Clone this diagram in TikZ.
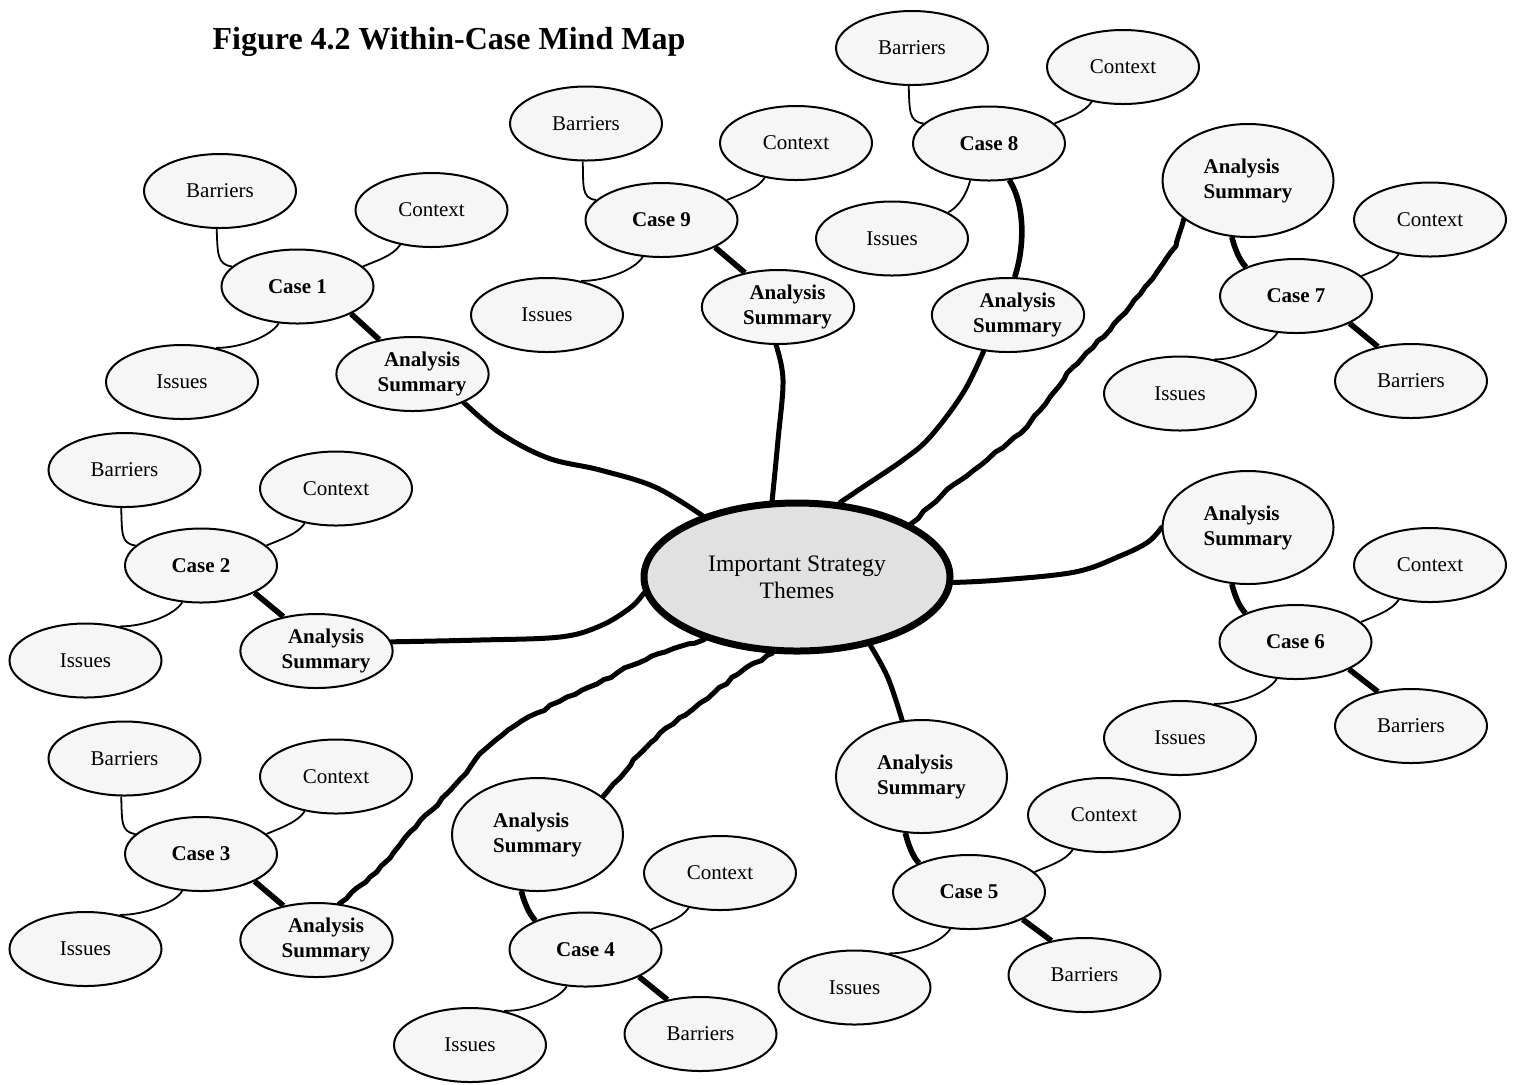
\documentclass[tikz,border=0pt]{standalone}
\usepackage{fontspec}
\setmainfont{Liberation Serif}
\usetikzlibrary{shapes.geometric,backgrounds,decorations.pathmorphing}

\definecolor{leafgray}{HTML}{F6F6F6}
\definecolor{hubgray}{HTML}{E1E1E1}

% thin links from a case to its satellites
\newcommand\barlink[2]{\draw[twig] (#1.-95) .. controls +(1,25) and +(-15,-2) .. (#2.163);}
\newcommand\ctxlink[2]{\draw[twig] (#1.-132) .. controls +(-7,11) and +(14,-6) .. (#2.17);}
\newcommand\isslink[2]{\draw[twig] (#1.-117) .. controls +(-8,13) and +(25,0) .. (#2.45);}
\newcommand\smallsummary{\hspace*{9.5pt}\begin{tabular}{@{}c@{}}Analysis\\Summary\end{tabular}}

\begin{document}
\begin{tikzpicture}[x=0.5pt,y=-0.5pt,
  every node/.style={font=\fontsize{10.5}{13}\selectfont},
  leaf/.style={ellipse,draw,line width=1pt,fill=leafgray,inner sep=0pt,
    minimum width=76pt,minimum height=37pt},
  casenode/.style={leaf,font=\fontsize{10.5}{13}\selectfont\bfseries},
  summary/.style={leaf,font=\fontsize{10.5}{12.5}\selectfont\bfseries},
  bigsummary/.style={summary,minimum width=85.5pt,minimum height=56.5pt,align=left},
  hub/.style={ellipse,draw,line width=3.5pt,fill=hubgray,inner sep=0pt,
    minimum width=153pt,minimum height=74pt,align=center,
    font=\fontsize{11.8}{13.5}\selectfont},
  twig/.style={line width=0.9pt},
  stem/.style={line width=2.8pt},
  branch/.style={line width=2.5pt,line cap=round,line join=round},
  rough/.style={decorate,decoration={random steps,segment length=4pt,amplitude=0.6pt}},
]
\pgfmathsetseed{11}
\useasboundingbox (0,0) rectangle (1519,1084);

\node[font=\fontsize{16}{19}\selectfont\bfseries] (title) at (449,42) {Figure 4.2 Within-Case Mind Map};

% central theme
\node[hub] (H) at (797,577) {Important Strategy\\Themes};

% case 1
\node[leaf] (b1) at (220,191) {Barriers};
\node[leaf] (x1) at (431.5,210) {Context};
\node[casenode] (c1) at (297.5,286.5) {Case 1};
\node[leaf] (i1) at (182,382) {Issues};
\node[summary] (a1) at (412.5,374) {\smallsummary};

% case 2
\node[leaf] (b2) at (124.5,470) {Barriers};
\node[leaf] (x2) at (336,488.5) {Context};
\node[casenode] (c2) at (201,565.5) {Case 2};
\node[leaf] (i2) at (85.5,660.5) {Issues};
\node[summary] (a2) at (316.5,651) {\smallsummary};

% case 3
\node[leaf] (b3) at (124.5,758.5) {Barriers};
\node[leaf] (x3) at (336,776.5) {Context};
\node[casenode] (c3) at (201,854) {Case 3};
\node[leaf] (i3) at (85.5,949) {Issues};
\node[summary] (a3) at (316.5,940) {\smallsummary};

% case 4
\node[bigsummary] (a4) at (537.5,834.5) {Analysis\\Summary};
\node[leaf] (x4) at (720,873) {Context};
\node[casenode] (c4) at (585.5,949.5) {Case 4};
\node[leaf] (b4) at (700.5,1034) {Barriers};
\node[leaf] (i4) at (470,1045) {Issues};

% case 5
\node[bigsummary] (a5) at (921.5,776.5) {Analysis\\Summary};
\node[leaf] (x5) at (1104,815) {Context};
\node[casenode] (c5) at (969,892) {Case 5};
\node[leaf] (b5) at (1084.5,975) {Barriers};
\node[leaf] (i5) at (854.5,987.5) {Issues};

% case 6
\node[bigsummary] (a6) at (1248,527.5) {Analysis\\Summary};
\node[leaf] (x6) at (1430,565) {Context};
\node[casenode] (c6) at (1295.5,642) {Case 6};
\node[leaf] (b6) at (1411,726) {Barriers};
\node[leaf] (i6) at (1180,738) {Issues};

% case 7
\node[bigsummary] (a7) at (1248,180.5) {Analysis\\Summary};
\node[leaf] (x7) at (1430,219.5) {Context};
\node[casenode] (c7) at (1296,296) {Case 7};
\node[leaf] (b7) at (1411,381) {Barriers};
\node[leaf] (i7) at (1180,393.5) {Issues};

% case 8
\node[leaf] (b8) at (912,48) {Barriers};
\node[leaf] (x8) at (1123,67) {Context};
\node[casenode] (c8) at (989,143.5) {Case 8};
\node[leaf] (i8) at (892,238.5) {Issues};
\node[summary] (a8) at (1008,315) {\smallsummary};

% case 9
\node[leaf] (b9) at (586,123.5) {Barriers};
\node[leaf] (x9) at (796,143) {Context};
\node[casenode] (c9) at (661.5,220) {Case 9};
\node[leaf] (i9) at (547,315) {Issues};
\node[summary] (a9) at (778,307) {\smallsummary};

\begin{pgfonlayer}{background}
  % satellites of each case
  \barlink{b1}{c1} \ctxlink{x1}{c1} \isslink{c1}{i1}
  \barlink{b2}{c2} \ctxlink{x2}{c2} \isslink{c2}{i2}
  \barlink{b3}{c3} \ctxlink{x3}{c3} \isslink{c3}{i3}
  \ctxlink{x4}{c4} \isslink{c4}{i4}
  \ctxlink{x5}{c5} \isslink{c5}{i5}
  \ctxlink{x6}{c6} \isslink{c6}{i6}
  \ctxlink{x7}{c7} \isslink{c7}{i7}
  \barlink{b8}{c8} \ctxlink{x8}{c8}
  \draw[twig] (c8.-117) .. controls +(-4,15) and +(10,-5) .. (i8.25);
  \barlink{b9}{c9} \ctxlink{x9}{c9} \isslink{c9}{i9}

  % short heavy links
  \draw[stem] (c1.-27) -- (a1.134);
  \draw[stem] (c2.-27) -- (a2.134);
  \draw[stem] (c3.-27) -- (a3.134);
  \draw[stem] (c9.-27) -- (a9.134);
  \draw[stem] (c4.-27) -- (b4.134);
  \draw[stem] (c5.-27) -- (b5.134);
  \draw[stem] (c6.-27) -- (b6.134);
  \draw[stem] (c7.-27) -- (b7.134);
  \draw[stem] (a4.-106) .. controls +(3,12) and +(-6,-6) .. (c4.150);
  \draw[stem] (a5.-106) .. controls +(3,12) and +(-6,-6) .. (c5.150);
  \draw[stem] (a6.-106) .. controls +(3,12) and +(-6,-6) .. (c6.150);
  \draw[stem] (a7.-106) .. controls +(3,12) and +(-6,-6) .. (c7.150);
  \draw[stem] (c8.-61) .. controls +(16,25) and +(10,-30) .. (a8.80);

  % branches to the central theme
  \draw[branch] plot[smooth,tension=0.6] coordinates {(a1.-29) (500,433) (548,458) (600,470) (655,487) (H.147)};
  \draw[branch] plot[smooth,tension=0.6] coordinates {(a9.-93) (783,380) (778,440) (H.108)};
  \draw[branch] plot[smooth,tension=0.6] coordinates {(a8.-124) (963,393) (930,437) (903,460) (863,487) (H.60)};
  \draw[branch,rough] (a7.-149) -- (1176,246) -- (1162,265) -- (1145,287) -- (1110,330) -- (1073,367) -- (1050,397) -- (1027,427) -- (987,460) -- (953,485) -- (H.25);
  \draw[branch] plot[smooth,tension=0.6] coordinates {(a6.180) (1148,542) (1120,556) (1075,572) (1000,580) (H.-2)};
  \draw[branch] plot[smooth,tension=0.6] coordinates {(a5.109) (888,678) (H.-43)};
  \draw[branch,rough] (a4.30) -- (620,778) -- (633,760) -- (660,733) -- (700,703) -- (747,667) -- (H.-108);
  \draw[branch,rough] (a3.58) -- (352,892) -- (370,877) -- (390,858) -- (410,832) -- (432,810) -- (455,785) -- (483,751) -- (508,730) -- (537,713) -- (567,697) -- (597,684) -- (630,666) -- (665,652) -- (H.-146);
  \draw[branch] plot[smooth,tension=0.6] coordinates {(a2.7) (480,640) (560,637) (600,626) (630,608) (H.186)};
\end{pgfonlayer}
\end{tikzpicture}
\end{document}
